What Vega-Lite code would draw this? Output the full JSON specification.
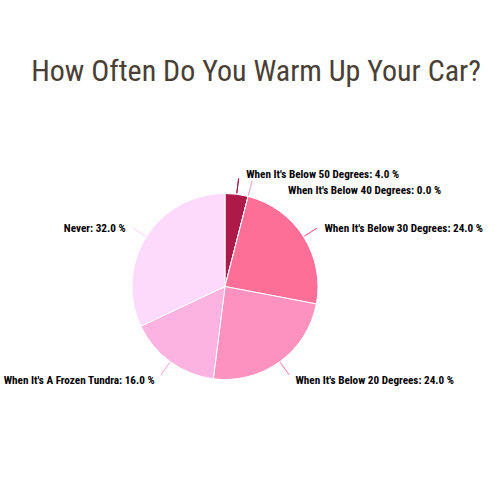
{
  "$schema": "https://vega.github.io/schema/vega-lite/v6.json",
  "width": 450,
  "height": 373,
  "autosize": "none",
  "padding": {"top": 100, "left": 0, "right": 50, "bottom": 27},
  "background": "white",
  "config": {
    "view": {"stroke": "transparent"},
    "font": "Roboto"
  },
  "title": {
    "text": "How Often Do You Warm Up Your Car?",
    "font": "Roboto Condensed, Liberation Sans Narrow, Roboto",
    "fontSize": 30,
    "fontWeight": "normal",
    "color": "#4a3f35",
    "anchor": "middle",
    "frame": "group",
    "dx": 31,
    "offset": 13
  },
  "data": {
    "values": [
      {"answer": "When It's Below 50 Degrees", "pct": 4},
      {"answer": "When It's Below 40 Degrees", "pct": 0},
      {"answer": "When It's Below 30 Degrees", "pct": 24},
      {"answer": "When It's Below 20 Degrees", "pct": 24},
      {"answer": "When It's A Frozen Tundra", "pct": 16},
      {"answer": "Never", "pct": 32}
    ]
  },
  "transform": [
    {"calculate": "datum.answer + ': ' + format(datum.pct, '.1f') + ' %'", "as": "label"}
  ],
  "encoding": {
    "theta": {"field": "pct", "type": "quantitative", "stack": true},
    "order": {"field": "answer", "sort": "descending"},
    "color": {
      "field": "answer",
      "type": "nominal",
      "legend": null,
      "scale": {
        "domain": [
          "When It's Below 50 Degrees",
          "When It's Below 40 Degrees",
          "When It's Below 30 Degrees",
          "When It's Below 20 Degrees",
          "When It's A Frozen Tundra",
          "Never"
        ],
        "range": ["#ad1a4a", "#eab0c8", "#fe6f98", "#fd92bf", "#fdb3e1", "#fddafb"]
      }
    }
  },
  "layer": [
    {
      "mark": {"type": "arc", "outerRadius": 93, "stroke": "white", "strokeWidth": 1}
    },
    {
      "mark": {
        "type": "arc",
        "innerRadius": 94,
        "outerRadius": 109,
        "padAngle": 3,
        "filled": false,
        "strokeWidth": 1
      }
    },
    {
      "mark": {
        "type": "text",
        "radius": 113,
        "font": "Roboto Condensed, Liberation Sans Narrow, Roboto",
        "fontSize": 11.2,
        "fontWeight": "bold",
        "baseline": "middle",
        "align": {"expr": "datum.answer == 'Never' || indexof(datum.answer, 'Frozen') >= 0 ? 'right' : 'left'"},
        "dx": {"expr": "datum.answer == 'Never' || indexof(datum.answer, 'Frozen') >= 0 ? -4 : indexof(datum.answer, '40') >= 0 ? 35 : indexof(datum.answer, '50') >= 0 ? 7 : 4"},
        "dy": {"expr": "indexof(datum.answer, '40') >= 0 ? 14 : indexof(datum.answer, '50') >= 0 ? 1 : 3"}
      },
      "encoding": {
        "text": {"field": "label"},
        "color": {"value": "black"}
      }
    }
  ]
}
